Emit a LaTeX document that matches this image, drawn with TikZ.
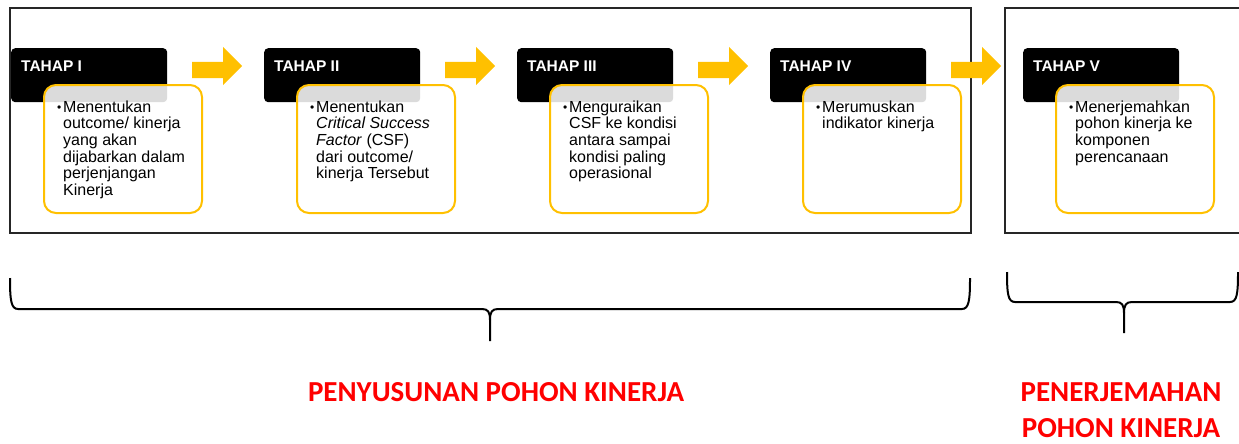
\documentclass[tikz,border=0pt]{standalone}
\usepackage{fontspec}
\setmainfont{Liberation Sans}
\newfontfamily\calib{Carlito}
\definecolor{gold}{HTML}{FFC000}
\definecolor{redlab}{HTML}{FF0000}
\begin{document}
\begin{tikzpicture}[x=1pt,y=-1pt,
  frame/.style={draw=black!85, line width=2pt},
  head/.style={fill=black, rounded corners=4pt, minimum width=156pt, minimum height=54pt, anchor=north west, inner sep=0pt, draw=none},
  card/.style={draw=gold, line width=2pt, fill=white, fill opacity=0.86, text opacity=1, rounded corners=12pt, minimum width=158pt, minimum height=128pt, anchor=north west, inner sep=0pt},
  title/.style={text=white, font=\fontsize{15.5}{16}\selectfont\bfseries, anchor=base west, inner sep=0pt},
  body/.style={font=\fontsize{16}{16.6}\selectfont, align=left, anchor=north west, inner sep=0pt},
  blockarrow/.style={fill=gold},
  brace/.style={draw=black, line width=2pt},
  redlabel/.style={text=redlab, font=\calib\bfseries\fontsize{29}{36}\selectfont, align=center, inner sep=0pt}]
\useasboundingbox (0,0) rectangle (1239,444);
% frames
\draw[frame] (10,8) rectangle (971,233);
\draw[frame] (1005,8) rectangle (1260,233);
% block arrows
\foreach \i in {0,1,2,3}{
  \fill[blockarrow, xshift=253*\i] (192,62) -- (223,62) -- (223,47) -- (242,66) -- (223,85) -- (223,78) -- (192,78) -- cycle;
}
% stages
\newcommand{\bul}{\llap{{\fontsize{12}{12}\selectfont\raisebox{1pt}{•}}\hspace{2pt}}}
\foreach \i/\t in {0/TAHAP I,1/TAHAP II,2/TAHAP III,3/TAHAP IV,4/TAHAP V}{
  \pgfmathsetmacro{\xo}{11+253*\i}
  \node[head] (h\i) at (\xo,48) {};
  \node[title] (t\i) at (\xo+10,71) {\t};
  \node[card] (c\i) at (\xo+32,84) {};
}
\node[body] (b0) at (63,100.5) {\bul Menentukan\\outcome/ kinerja\\yang akan\\dijabarkan dalam\\perjenjangan\\Kinerja};
\node[body] (b1) at (316,100.5) {\bul Menentukan\\\textit{Critical Success}\\\textit{Factor} (CSF)\\dari outcome/\\kinerja Tersebut};
\node[body] (b2) at (569,100.5) {\bul Menguraikan\\CSF ke kondisi\\antara sampai\\kondisi paling\\operasional};
\node[body] (b3) at (822,100.5) {\bul Merumuskan\\indikator kinerja};
\node[body] (b4) at (1075,100.5) {\bul Menerjemahkan\\pohon kinerja ke\\komponen\\perencanaan};
% braces
\draw[brace] (10,278) .. controls (10,300) and (11,309) .. (18,309) -- (482,309)
  .. controls (488,309) and (490,312) .. (490,320) -- (490,341);
\draw[brace] (490,320) .. controls (490,312) and (492,309) .. (498,309) -- (962,309)
  .. controls (969,309) and (970,300) .. (970,278);
\draw[brace] (1007,272) .. controls (1007,294) and (1008,302) .. (1015,302) -- (1116,302)
  .. controls (1122,302) and (1124,305) .. (1124,313) -- (1124,333);
\draw[brace] (1124,313) .. controls (1124,305) and (1126,302) .. (1132,302) -- (1230,302)
  .. controls (1237,302) and (1238,294) .. (1238,272);
% labels
\node[redlabel, anchor=base] (l1) at (496,401) {PENYUSUNAN POHON KINERJA};
\node[redlabel, anchor=north] (l2) at (1121,382) {PENERJEMAHAN\\POHON KINERJA};
\end{tikzpicture}
\end{document}
